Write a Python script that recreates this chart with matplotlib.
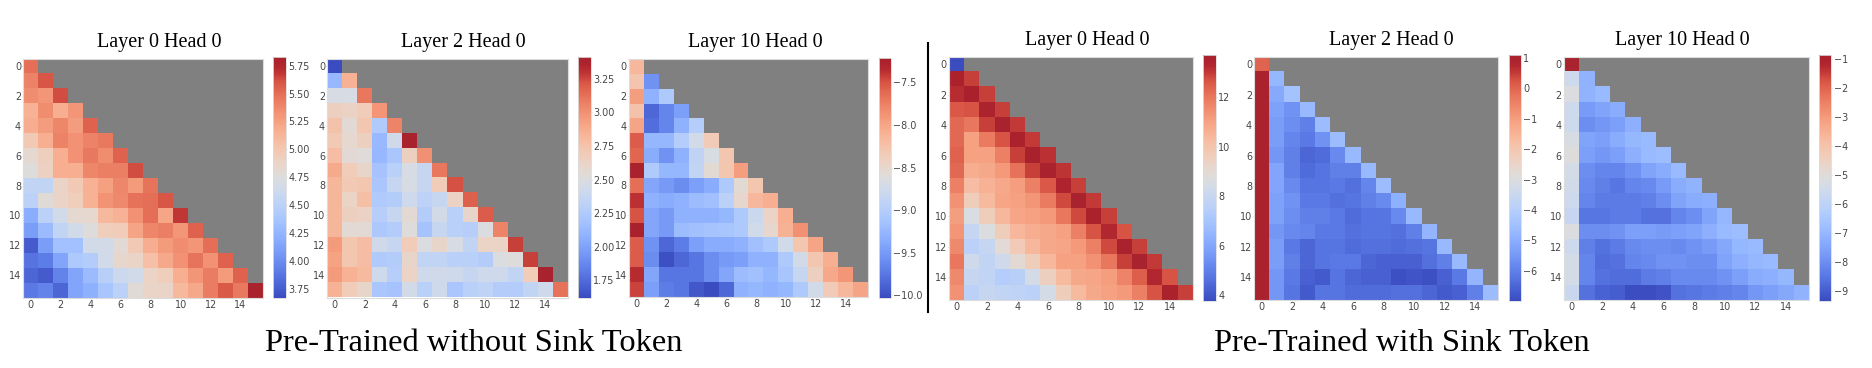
import numpy as np
import matplotlib
matplotlib.use("Agg")
import matplotlib.pyplot as plt
from matplotlib.colors import Normalize, ListedColormap
from matplotlib.cm import ScalarMappable

W, H = 1872, 368

titles = ["Layer 0 Head 0", "Layer 2 Head 0", "Layer 10 Head 0",
          "Layer 0 Head 0", "Layer 2 Head 0", "Layer 10 Head 0"]
group_labels = ["Pre-Trained without Sink Token", "Pre-Trained with Sink Token"]
axis_ticks = [0, 2, 4, 6, 8, 10, 12, 14]

p1 = [[5.5],
[5.4,5.6],
[5.35,5.3,5.62],
[5.15,5.35,5.17,5.3],
[5.18,5.27,5.38,5.27,5.55],
[4.97,5.17,5.4,5.33,5.4,5.45],
[4.82,4.92,5.17,5.33,5.45,5.35,5.55],
[4.75,4.9,5.17,5.17,5.38,5.42,5.42,5.62],
[4.55,4.55,4.87,4.97,5.15,5.25,5.38,5.28,5.47],
[4.5,4.78,4.87,4.93,5.15,5.32,5.37,5.48,5.5,5.6],
[4.2,4.5,4.65,4.82,4.83,5.1,5.15,5.33,5.5,5.22,5.68],
[4.1,4.3,4.55,4.65,4.75,4.93,4.95,5.23,5.38,5.42,5.3,5.55],
[3.75,4.1,4.35,4.35,4.65,4.67,4.8,4.97,5.18,5.28,5.35,5.3,5.5],
[3.87,3.92,4.15,4.42,4.45,4.65,4.85,4.87,5.05,5.2,5.33,5.47,5.33,5.55],
[3.8,3.75,3.95,4.15,4.3,4.48,4.62,4.65,4.88,4.93,5.17,5.3,5.43,5.28,5.55],
[3.9,3.95,3.8,4.15,4.22,4.38,4.5,4.78,4.87,4.87,5.1,5.2,5.43,5.58,5.45,5.83]]

p2 = [[1.62],
[2.12,2.85],
[2.47,2.47,3.1],
[2.65,2.63,2.68,2.98],
[2.75,2.55,2.72,2.25,3.05],
[2.7,2.58,2.65,2.13,2.43,3.41],
[2.78,2.55,2.53,2.12,2.22,2.65,3.0],
[2.88,2.68,2.6,2.2,2.3,2.47,2.37,3.1],
[2.82,2.7,2.72,2.22,2.38,2.47,2.38,2.68,3.23],
[2.82,2.62,2.77,2.25,2.27,2.42,2.32,2.38,2.63,3.18],
[2.82,2.65,2.63,2.28,2.38,2.55,2.27,2.45,2.3,2.6,3.2],
[2.82,2.55,2.55,2.23,2.27,2.52,2.2,2.38,2.3,2.28,2.5,3.05],
[2.95,2.72,2.78,2.43,2.37,2.68,2.5,2.6,2.47,2.35,2.62,2.62,3.27],
[2.92,2.72,2.78,2.25,2.27,2.6,2.35,2.35,2.3,2.3,2.27,2.5,2.52,3.27],
[2.95,2.85,2.8,2.42,2.28,2.62,2.42,2.43,2.42,2.38,2.42,2.42,2.35,2.68,3.41],
[2.85,2.68,2.6,2.22,2.2,2.45,2.3,2.42,2.22,2.3,2.33,2.27,2.27,2.35,2.42,3.12]]

p3 = [[-8.15],
[-8.28,-9.55],
[-7.95,-9.3,-9.05],
[-8.25,-9.85,-9.65,-9.45],
[-8.0,-9.8,-9.65,-9.3,-9.0],
[-7.55,-9.25,-9.25,-9.0,-8.72,-8.35],
[-7.6,-9.35,-9.55,-9.3,-8.9,-8.68,-8.3],
[-7.22,-9.03,-9.25,-9.25,-8.88,-8.55,-8.3,-7.95],
[-7.65,-9.4,-9.5,-9.6,-9.45,-9.35,-9.05,-8.55,-8.3],
[-7.38,-9.3,-9.35,-9.3,-9.2,-9.15,-8.95,-8.5,-8.15,-8.07],
[-7.5,-9.4,-9.5,-9.3,-9.3,-9.3,-9.25,-9.05,-8.8,-8.45,-8.07],
[-7.25,-9.4,-9.5,-9.2,-9.15,-9.12,-9.1,-9.05,-8.75,-8.5,-8.1,-7.85],
[-7.55,-9.55,-9.85,-9.7,-9.45,-9.35,-9.35,-9.3,-9.15,-9.05,-8.75,-8.3,-8.0],
[-7.55,-9.6,-10.0,-9.85,-9.75,-9.6,-9.5,-9.45,-9.3,-9.3,-9.05,-8.72,-8.3,-8.07],
[-7.35,-9.4,-9.75,-9.75,-9.75,-9.6,-9.4,-9.2,-9.15,-9.25,-9.1,-8.85,-8.4,-8.03,-7.9],
[-7.45,-9.45,-9.7,-9.75,-9.95,-10.03,-9.85,-9.3,-9.25,-9.3,-9.25,-9.05,-8.75,-8.35,-8.15,-8.0]]

p4 = [[3.77],
[13.5,12.9],
[13.2,13.55,12.9],
[12.6,12.7,13.45,12.9],
[12.3,12.0,12.9,13.7,13.0],
[12.3,11.0,11.9,12.7,13.5,13.0],
[12.4,11.0,11.0,11.8,12.9,13.65,13.1],
[12.3,10.7,10.8,11.2,12.1,12.9,13.6,13.05],
[11.8,10.2,10.6,10.8,11.1,11.8,12.6,13.4,12.9],
[11.4,9.6,10.3,10.9,11.0,11.3,11.9,12.8,13.7,13.0],
[11.1,8.6,9.6,10.4,10.9,11.0,11.2,12.0,12.8,13.5,12.9],
[11.3,7.9,8.7,9.6,10.4,10.7,10.8,11.0,11.8,12.7,13.3,12.7],
[11.6,7.6,7.9,8.9,9.7,10.4,10.8,10.9,11.2,11.8,12.8,13.6,12.9],
[12.0,8.2,7.8,8.2,9.0,9.6,10.4,11.0,11.0,11.4,12.0,12.9,13.7,13.0],
[11.6,8.0,7.8,7.4,7.5,8.4,9.5,10.3,10.8,10.9,11.1,11.7,12.5,13.3,12.7],
[11.4,7.6,8.0,7.8,7.7,7.6,8.4,9.6,10.3,10.8,11.0,11.2,11.8,12.7,13.5,12.9]]

p5 = [[0.0],
[1,-4.75],
[1,-5.1,-4.4],
[1,-5.3,-5.6,-4.7],
[1,-5.4,-5.7,-6.0,-4.6],
[1,-5.4,-5.9,-6.1,-5.6,-4.6],
[1,-5.5,-6.0,-6.5,-6.4,-5.8,-4.7],
[1,-5.2,-6.0,-6.4,-6.2,-6.0,-6.0,-4.7],
[1,-5.2,-5.8,-6.2,-6.2,-6.1,-6.3,-5.9,-4.6],
[1,-5.3,-5.6,-6.1,-6.1,-6.3,-6.2,-6.0,-5.8,-4.9],
[1,-5.3,-5.7,-6.0,-6.0,-6.1,-6.4,-6.2,-6.2,-5.8,-4.7],
[1,-5.5,-5.8,-5.9,-6.1,-6.1,-6.3,-6.2,-6.2,-6.3,-6.0,-4.8],
[1,-5.4,-6.1,-6.5,-6.2,-6.2,-6.4,-6.3,-6.3,-6.4,-6.3,-6.2,-4.7],
[1,-5.4,-6.0,-6.5,-6.2,-6.1,-6.1,-6.5,-6.6,-6.6,-6.6,-6.3,-6.0,-4.7],
[1,-5.5,-6.1,-6.6,-6.7,-6.2,-6.5,-6.6,-6.6,-6.9,-6.8,-6.9,-6.6,-6.1,-4.8],
[1,-5.5,-6.2,-6.7,-6.2,-6.2,-6.4,-6.4,-6.4,-6.3,-6.3,-6.5,-6.7,-6.6,-6.0,-4.6]]

p6 = [[-0.87],
[-5.6,-7.1],
[-5.2,-7.1,-6.9],
[-5.6,-7.7,-7.5,-7.3],
[-5.6,-8.0,-7.8,-7.6,-7.2],
[-5.3,-7.5,-7.6,-7.3,-7.0,-6.9],
[-5.1,-7.6,-7.8,-7.6,-7.2,-6.9,-6.8],
[-5.4,-8.0,-8.2,-8.2,-7.9,-7.5,-7.3,-6.9],
[-5.5,-8.1,-8.3,-8.5,-8.2,-8.1,-7.7,-7.3,-7.1],
[-5.6,-8.2,-8.4,-8.4,-8.4,-8.3,-8.0,-7.5,-7.3,-7.2],
[-5.8,-8.5,-8.5,-8.4,-8.4,-8.6,-8.6,-8.2,-8.0,-7.5,-7.0],
[-5.2,-8.0,-8.0,-7.9,-7.6,-7.6,-7.7,-7.6,-7.5,-7.2,-6.9,-6.8],
[-5.6,-8.3,-8.6,-8.4,-8.1,-8.0,-8.0,-8.1,-7.9,-7.7,-7.4,-7.0,-6.9],
[-5.4,-8.2,-8.7,-8.6,-8.2,-8.1,-7.9,-7.9,-8.0,-8.0,-7.5,-7.2,-7.0,-6.9],
[-5.4,-8.2,-8.6,-8.7,-8.7,-8.4,-8.3,-8.1,-8.1,-8.1,-7.9,-7.6,-7.3,-7.2,-7.0],
[-5.7,-8.6,-8.9,-9.0,-9.3,-9.3,-9.2,-8.6,-8.5,-8.4,-8.3,-8.2,-7.8,-7.6,-7.4,-7.1]]

panels = [p1, p2, p3, p4, p5, p6]
vlims = [(3.67, 5.83), (1.62, 3.41), (-10.03, -7.21), (3.77, 13.71), (-6.98, 1.09), (-9.34, -0.87)]
cbar_ticks = [
    [3.75, 4.00, 4.25, 4.50, 4.75, 5.00, 5.25, 5.50, 5.75],
    [1.75, 2.00, 2.25, 2.50, 2.75, 3.00, 3.25],
    [-10.0, -9.5, -9.0, -8.5, -8.0, -7.5],
    [4, 6, 8, 10, 12],
    [-6, -5, -4, -3, -2, -1, 0, 1],
    [-9, -8, -7, -6, -5, -4, -3, -2, -1],
]
cbar_fmt = ["{:.2f}", "{:.2f}", "{:.1f}", "{:d}", "{:d}", "{:d}"]

# layout in pixels: left, right, top, bottom
ax_boxes = [(23.3, 263, 58.5, 297.7), (327.3, 568, 58.5, 297.5), (629, 868, 59, 297),
            (949, 1192.7, 56.7, 300), (1254.3, 1498, 56.7, 300), (1564, 1808.7, 56.7, 300)]
cb_boxes = [(273, 286, 56.7, 298), (578, 591, 57, 298), (879, 891, 57.5, 298),
            (1203, 1216, 55, 300.7), (1508.7, 1521, 55, 300.7), (1819, 1831.3, 55, 300.7)]
title_pos = [(159, 47), (463, 47), (755, 47), (1087, 45), (1391, 45), (1682, 45)]
label_pos = [(473.5, 351), (1401.5, 351)]

plt.rcParams["font.family"] = "DejaVu Sans"
fig = plt.figure(figsize=(W / 100, H / 100), dpi=100, facecolor="white")


def add_px_axes(box):
    l, r, t, b = box
    return fig.add_axes([l / W, 1 - b / H, (r - l) / W, (b - t) / H])


# coolwarm with the muted dark red the reference shows at its top end
base = plt.get_cmap("coolwarm")(np.linspace(0, 1, 256))
blend = np.clip((np.linspace(0, 1, 256) - 0.9) / 0.1, 0, 1)[:, None]
base[:, :3] = base[:, :3] * (1 - blend) + np.array([168, 36, 46]) / 255 * blend
cmap = ListedColormap(base)
cmap.set_bad("#808080")
TICK = "#454545"
EDGE = "#dcdcdc"
TICK_SIZE = 6.9

for i, rows in enumerate(panels):
    grid = np.full((16, 16), np.nan)
    for r, row in enumerate(rows):
        grid[r, :len(row)] = row
    norm = Normalize(*vlims[i])
    ax = add_px_axes(ax_boxes[i])
    ax.imshow(np.ma.masked_invalid(grid), cmap=cmap, norm=norm, aspect="auto",
              interpolation="nearest")
    ax.set_xticks(axis_ticks)
    ax.set_yticks(axis_ticks)
    ax.tick_params(labelsize=TICK_SIZE, colors=TICK, length=0.8, width=0.4, pad=0.8, color="#b0b0b0")
    for s in ax.spines.values():
        s.set_color(EDGE)
        s.set_linewidth(0.8)

    cax = add_px_axes(cb_boxes[i])
    cb = fig.colorbar(ScalarMappable(norm=norm, cmap=cmap), cax=cax)
    cb.set_ticks(cbar_ticks[i])
    cb.set_ticklabels([cbar_fmt[i].format(t).replace("-", "\u2212") for t in cbar_ticks[i]])
    cb.ax.tick_params(labelsize=TICK_SIZE, colors=TICK, length=0.8, width=0.4, pad=0.8, color="#b0b0b0")
    cb.outline.set_edgecolor(EDGE)
    cb.outline.set_linewidth(0.6)

    x, y = title_pos[i]
    fig.text(x / W, 1 - y / H, titles[i], family="Liberation Serif", fontsize=14.5,
             ha="center", va="baseline", color="black")

for (x, y), s in zip(label_pos, group_labels):
    fig.text(x / W, 1 - y / H, s, family="Liberation Serif", fontsize=23.4,
             ha="center", va="baseline", color="black")

fig.add_artist(plt.Line2D([927.7 / W, 927.7 / W], [1 - 43 / H, 1 - 312 / H], color="black", lw=1.5))

fig.savefig("out.png", dpi=100, facecolor="white")
